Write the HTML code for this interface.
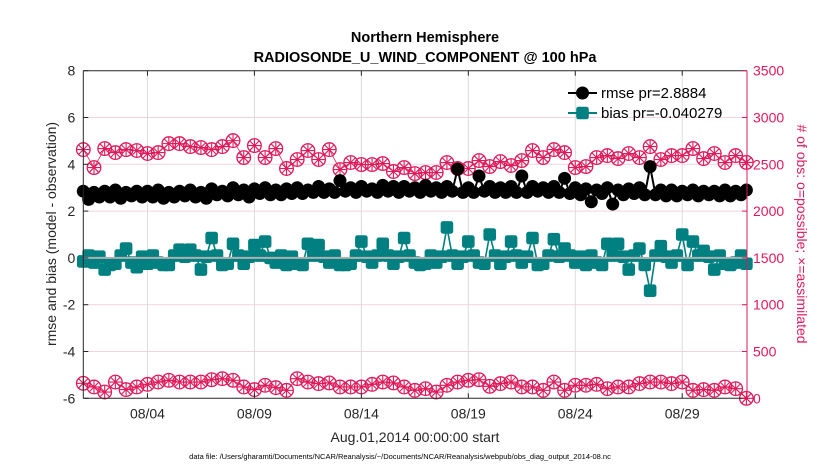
<!DOCTYPE html>
<html><head><meta charset="utf-8"><style>
body{margin:0;background:#fff;}
svg{display:block;font-family:"Liberation Sans",Arial,sans-serif;}
</style></head><body>
<svg id="chart" width="830" height="470" viewBox="0 0 830 470">
  <rect x="0" y="0" width="830" height="470" fill="#fff"/>
  <text x="425" y="42" text-anchor="middle" font-size="14.5" font-weight="bold">Northern Hemisphere</text>
  <text x="425" y="62" text-anchor="middle" font-size="14.5" font-weight="bold">RADIOSONDE_U_WIND_COMPONENT @ 100 hPa</text>
  <g id="grid"></g>
  <g id="series"></g>
  <g id="axes"></g>
  <text transform="translate(56,234) rotate(-90)" text-anchor="middle" font-size="14" fill="#262626">rmse and bias (model - observation)</text>
  <text transform="translate(797,234) rotate(90)" text-anchor="middle" font-size="14" fill="#e0195a"># of obs: o=possible; ×=assimilated</text>
  <text x="415" y="442" text-anchor="middle" font-size="14" fill="#262626">Aug.01,2014 00:00:00 start</text>
  <text x="400" y="459" text-anchor="middle" font-size="7.5" fill="#000">data file: /Users/gharamti/Documents/NCAR/Reanalysis/~/Documents/NCAR/Reanalysis/webpub/obs_diag_output_2014-08.nc</text>
  <g id="legend"></g>
</svg>
<script>
const xTickDays = [3, 8, 13, 18, 23, 28];
const xTickLabels = ["08/04","08/09","08/14","08/19","08/24","08/29"];
const leftTicks = [-6,-4,-2,0,2,4,6,8];
const rightTicks = [0,500,1000,1500,2000,2500,3000,3500];
// values at 00Z/12Z (every 12 h from Aug 1 00Z)
const rmse00 = [2.85,2.8,2.85,2.9,2.8,2.85,2.85,2.9,2.8,2.85,
 2.9,2.8,2.95,2.85,3.0,2.9,2.95,3.0,2.9,2.95,
 3.0,2.9,3.05,2.95,3.3,3.0,3.05,2.95,3.1,3.05,
 3.05,3.0,3.1,3.0,3.05,3.8,3.0,3.5,3.05,3.0,
 3.05,3.5,3.05,3.0,3.05,3.4,3.0,2.95,2.9,3.0,
 2.9,2.95,3.0,3.9,2.9,2.9,2.85,2.9,2.85,2.85,
 2.9,2.85,2.9];
// values at 06Z/18Z
const rmse06 = [2.5,2.6,2.6,2.55,2.65,2.6,2.6,2.55,2.6,2.65,
 2.6,2.55,2.7,2.65,2.7,2.6,2.75,2.7,2.7,2.75,
 2.75,2.8,2.8,2.8,2.85,2.8,2.85,2.8,2.85,2.8,
 2.85,2.8,2.85,2.8,2.85,2.8,2.8,2.85,2.8,2.8,
 2.8,2.8,2.85,2.8,2.8,2.75,2.7,2.4,2.75,2.3,
 2.7,2.75,2.7,2.7,2.65,2.65,2.7,2.65,2.7,2.65,
 2.65,2.7];
const bias00 = [-0.15,-0.2,-0.5,-0.25,0.4,-0.4,-0.25,-0.2,-0.3,0.35,
 0.35,-0.5,0.85,-0.3,0.6,-0.25,0.55,0.7,-0.2,-0.3,
 -0.25,0.6,0.55,-0.2,-0.3,-0.25,0.7,-0.2,0.6,-0.25,
 0.85,-0.2,-0.25,-0.2,1.3,-0.25,0.7,-0.2,1.0,-0.25,
 0.7,-0.2,0.85,-0.25,0.8,0.4,-0.2,-0.3,-0.2,0.6,
 0.6,-0.5,0.4,-1.4,0.5,-0.2,1.0,0.7,0.3,-0.5,
 -0.25,-0.2,-0.25];
const bias06 = [0.1,0.05,-0.3,0.1,-0.2,0.05,0.1,-0.3,0.1,0.05,
 0.1,0.05,0.1,-0.25,0.1,0.05,0.1,0.0,0.1,0.05,
 -0.3,0.1,0.05,0.1,-0.3,0.1,0.05,0.1,0.1,0.05,
 0.1,-0.3,0.1,0.05,0.1,0.05,0.1,-0.25,0.1,0.05,
 0.1,0.05,-0.3,0.1,0.05,0.1,0.05,0.1,-0.3,0.1,
 0.05,0.1,-0.3,0.1,0.05,0.1,-0.3,0.1,0.05,0.1,
 -0.3,0.1];
const obsUpper = [2657,2465,2668,2625,2657,2647,2615,2625,2721,2721,
 2689,2679,2657,2689,2753,2572,2700,2572,2668,2455,
 2551,2647,2551,2657,2444,2519,2497,2497,2508,2423,
 2465,2401,2412,2412,2519,2455,2455,2540,2476,2529,
 2487,2540,2647,2572,2657,2625,2465,2476,2572,2593,
 2561,2615,2572,2689,2551,2593,2593,2668,2561,2615,
 2519,2593,2520];
const obsLower = [160,121,67,174,93,121,149,174,192,174,174,
 174,199,210,192,121,93,139,114,85,210,
 174,157,164,121,121,121,149,174,164,121,
 85,103,67,139,174,192,199,128,157,174,
 121,121,85,174,85,139,139,149,103,121,
 121,157,174,174,157,174,85,93,85,121,
 103,0];
const STEP_DAYS = 0.5;

const NS = "http://www.w3.org/2000/svg";
const L = 83.3, R = 747, T = 70.7, B = 398.3;
const PINK = "#e0195a", TEAL = "#008080";
const x = d => L + d * 21.39;
const yL = v => T + (8 - v) / 14 * (B - T);
const yR = v => B - v / 3500 * (B - T);
function mk(tag, attrs, parent){const e=document.createElementNS(NS,tag);for(const k in attrs)e.setAttribute(k,attrs[k]);parent.appendChild(e);return e;}
const grid=document.getElementById('grid'), ser=document.getElementById('series'), ax=document.getElementById('axes'), leg=document.getElementById('legend');

leftTicks.forEach(v=>{ if(v===8||v===-6) return;
  const g=mk('line',{x1:L,x2:R,y1:yL(v),y2:yL(v),stroke:'#f2d3e0','stroke-width':1},grid);
   });
xTickDays.forEach(d=>{
  const g=mk('line',{x1:x(d),x2:x(d),y1:T,y2:B,stroke:'#dcdcdc','stroke-width':1},grid);
   });

function ptsOf(arr, yf){return arr.map((v,i)=>[x(i*STEP_DAYS), yf(v)]);}
function merged(a00, a06, yf){
  const out=[];
  for(let i=0;i<a00.length;i++){
    out.push([x(i*STEP_DAYS), yf(a00[i])]);
    if(i<a06.length) out.push([x(i*STEP_DAYS+STEP_DAYS/2), yf(a06[i])]);
  }
  return out;
}
function star(parent, cx, cy, name){
  const g=mk('g',{},parent);
   
  mk('circle',{cx:cx,cy:cy,r:6.8,fill:'none',stroke:PINK,'stroke-width':1.3},g);
  const r=6.3, s=4.5;
  mk('path',{d:`M${cx-r},${cy}H${cx+r}M${cx},${cy-r}V${cy+r}M${cx-s},${cy-s}L${cx+s},${cy+s}M${cx-s},${cy+s}L${cx+s},${cy-s}`,stroke:PINK,'stroke-width':1.1,fill:'none'},g);
}
const up=ptsOf(obsUpper,yR);
let l1=mk('polyline',{points:up.map(p=>p.join(',')).join(' '),fill:'none',stroke:PINK,'stroke-width':0.8},ser);
 
up.forEach(p=>star(ser,p[0],p[1],'obs-possible-point'));
const lo=ptsOf(obsLower,yR);
let l2=mk('polyline',{points:lo.map(p=>p.join(',')).join(' '),fill:'none',stroke:PINK,'stroke-width':0.8},ser);
 
lo.forEach(p=>star(ser,p[0],p[1],'obs-assimilated-point'));

const rp=merged(rmse00,rmse06,yL);
let l3=mk('polyline',{points:rp.map(p=>p.join(',')).join(' '),fill:'none',stroke:'#000','stroke-width':2},ser);
 
rp.forEach(p=>{const c=mk('circle',{cx:p[0],cy:p[1],r:6.5,fill:'#000'},ser);
   });
const bp=merged(bias00,bias06,yL);
let l4=mk('polyline',{points:bp.map(p=>p.join(',')).join(' '),fill:'none',stroke:TEAL,'stroke-width':1.6},ser);
 
bp.forEach(p=>{const c=mk('rect',{x:p[0]-6.3,y:p[1]-6.3,width:12.6,height:12.6,rx:2.5,fill:TEAL},ser);
   });
let z=mk('line',{x1:L,x2:R,y1:yL(0),y2:yL(0),stroke:'#b0b0b0','stroke-width':2},ser);
 

let a;
a=mk('line',{x1:L,x2:L,y1:T,y2:B,stroke:'#262626','stroke-width':1},ax);  
a=mk('line',{x1:L,x2:R,y1:B,y2:B,stroke:'#262626','stroke-width':1},ax);  
a=mk('line',{x1:L,x2:R,y1:T,y2:T,stroke:'#262626','stroke-width':1},ax);  
a=mk('line',{x1:R,x2:R,y1:T,y2:B,stroke:PINK,'stroke-width':1},ax);  
leftTicks.forEach(v=>{
  const t=mk('text',{x:L-8,y:yL(v)+5,'text-anchor':'end','font-size':14,fill:'#262626'},ax); t.textContent=v;
   
  mk('line',{x1:L,x2:L+5,y1:yL(v),y2:yL(v),stroke:'#262626'},ax);
});
rightTicks.forEach(v=>{
  const t=mk('text',{x:R+6,y:yR(v)+5,'font-size':14,fill:PINK},ax); t.textContent=v;
   
  mk('line',{x1:R-5,x2:R,y1:yR(v),y2:yR(v),stroke:PINK},ax);
});
xTickDays.forEach((d,i)=>{
  const t=mk('text',{x:x(d),y:B+20,'text-anchor':'middle','font-size':14,fill:'#262626'},ax); t.textContent=xTickLabels[i];
   
  mk('line',{x1:x(d),x2:x(d),y1:B,y2:B-5,stroke:'#262626'},ax);
  mk('line',{x1:x(d),x2:x(d),y1:T,y2:T+5,stroke:'#262626'},ax);
});

let e;
e=mk('line',{x1:568,x2:597,y1:93,y2:93,stroke:'#000','stroke-width':2},leg);  
e=mk('circle',{cx:582.5,cy:93,r:6.5,fill:'#000'},leg);  
e=mk('text',{x:601,y:98,'font-size':15,fill:'#000'},leg); e.textContent='rmse pr=2.8884';  
e=mk('line',{x1:568,x2:597,y1:113,y2:113,stroke:TEAL,'stroke-width':2},leg);  
e=mk('rect',{x:576.2,y:106.7,width:12.6,height:12.6,rx:2.5,fill:TEAL},leg);  
e=mk('text',{x:601,y:118,'font-size':15,fill:'#000'},leg); e.textContent='bias pr=-0.040279';  
</script>
</body></html>
